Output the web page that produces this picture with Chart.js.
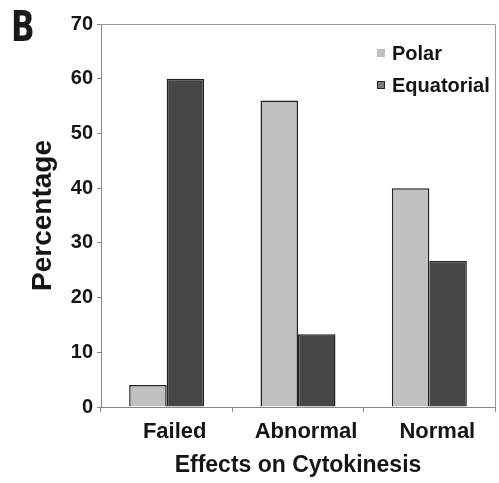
<!DOCTYPE html>
<html>
<head>
<meta charset="utf-8">
<script src="https://cdn.jsdelivr.net/npm/chart.js@4.4.0/dist/chart.umd.min.js"></script>
<style>
  html, body { margin: 0; padding: 0; background: #fff; }
  #wrap { position: relative; width: 499px; height: 483px; }
  #panel { position: absolute; left: 11px; top: 2px; font-family: "DejaVu Sans", sans-serif; font-weight: bold; font-size: 42px; color: #1a1a1a; transform: scaleX(0.74); transform-origin: left top; line-height: 50px; }
</style>
</head>
<body>
<div id="wrap">
  <canvas id="c" width="499" height="483"></canvas>
  <div id="panel">B</div>
</div>
<script>
const categories = ["Failed", "Abnormal", "Normal"];
const seriesNames = ["Polar", "Equatorial"];
const polarValues = [4, 56, 40];
const equatorialValues = [60, 13.3, 26.7];
const yTicks = [0, 10, 20, 30, 40, 50, 60, 70];
const xTitle = "Effects on Cytokinesis";
const yTitle = "Percentage";

const FONT = "'Liberation Sans', Arial, sans-serif";

const frameAndLegend = {
  id: 'frameAndLegend',
  afterDraw(chart) {
    const {ctx, chartArea: a} = chart;
    ctx.save();
    ctx.strokeStyle = '#9a9a9a';
    ctx.lineWidth = 1;
    ctx.beginPath();
    ctx.moveTo(a.left, a.top + 0.5);
    ctx.lineTo(a.right + 0.5, a.top + 0.5);
    ctx.lineTo(a.right + 0.5, a.bottom);
    ctx.stroke();
    // legend
    const items = chart.data.datasets;
    const boxX = 377, textX = 392, ys = [53, 85];
    ctx.font = "bold 20px " + FONT;
    ctx.textBaseline = 'middle';
    ctx.textAlign = 'left';
    items.forEach((ds, i) => {
      const y = ys[i];
      ctx.fillStyle = i === 0 ? ds.backgroundColor : '#7a7a7a';
      ctx.fillRect(boxX, y - 4, 8, 8);
      if (i === 1) { ctx.strokeStyle = '#222'; ctx.lineWidth = 1; ctx.strokeRect(boxX + 0.5, y - 3.5, 7, 7); }
      ctx.fillStyle = '#151515';
      ctx.fillText(ds.label, textX, y + 1);
    });
    ctx.restore();
  }
};

new Chart(document.getElementById('c'), {
  type: 'bar',
  data: {
    labels: categories,
    datasets: [
      { label: seriesNames[0], data: polarValues, backgroundColor: '#c0c0c0', borderColor: '#222', borderWidth: 1.5 },
      { label: seriesNames[1], data: equatorialValues, backgroundColor: '#464646', borderColor: '#222', borderWidth: 1.5 }
    ]
  },
  options: {
    responsive: false,
    animation: false,
    layout: { padding: { left: 0, right: 4, top: 24, bottom: 0 } },
    categoryPercentage: 0.571,
    barPercentage: 1.0,
    plugins: { legend: { display: false }, tooltip: { enabled: false } },
    scales: {
      x: {
        grid: { display: true, drawOnChartArea: false, tickLength: 5, color: '#888', offset: true },
        border: { color: '#888', width: 1 },
        ticks: { font: { family: FONT, size: 22, weight: 'bold' }, color: '#151515', padding: 7, labelOffset: 8, maxRotation: 0 },
        title: { display: true, text: xTitle, font: { family: FONT, size: 23, weight: 'bold' }, color: '#151515', padding: { top: 0, bottom: 4 } },
        afterFit(scale) { scale.height = 76; }
      },
      y: {
        min: 0, max: 70,
        afterBuildTicks(scale) { scale.ticks = yTicks.map(v => ({ value: v })); },
        grid: { display: true, drawOnChartArea: false, tickLength: 4, color: '#888' },
        border: { color: '#888', width: 1 },
        ticks: { font: { family: FONT, size: 20, weight: 'bold' }, color: '#151515', padding: 4 },
        title: { display: true, text: yTitle, font: { family: FONT, size: 28, weight: 'bold' }, color: '#151515', padding: { top: 26, bottom: 0 } },
        afterFit(scale) { scale.width = 101; }
      }
    }
  },
  plugins: [frameAndLegend]
});
</script>
</body>
</html>
